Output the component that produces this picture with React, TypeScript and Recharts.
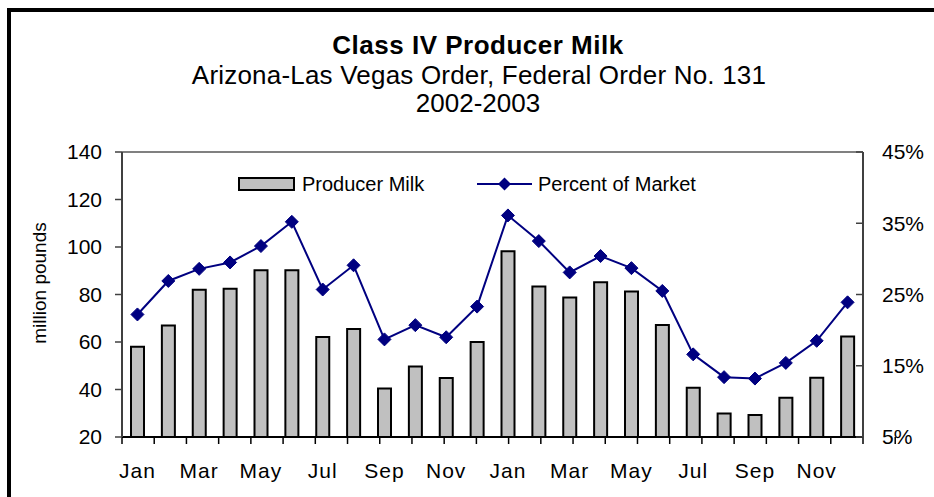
import React from 'react';
import { ComposedChart, Bar, Line, XAxis, YAxis, Legend, ReferenceLine } from 'recharts';

const months = ['Jan', 'Feb', 'Mar', 'Apr', 'May', 'Jun', 'Jul', 'Aug', 'Sep', 'Oct', 'Nov', 'Dec',
  'Jan', 'Feb', 'Mar', 'Apr', 'May', 'Jun', 'Jul', 'Aug', 'Sep', 'Oct', 'Nov', 'Dec'];
const producerMilk = [58, 67, 82, 82.4, 90.2, 90.2, 62.1, 65.5, 40.4, 49.7, 44.8, 60,
  98.2, 83.4, 78.7, 85.2, 81.3, 67.2, 40.7, 29.9, 29.3, 36.5, 45, 62.3];
const percentOfMarket = [22.2, 26.9, 28.6, 29.5, 31.8, 35.2, 25.7, 29.1, 18.7, 20.7, 19.0, 23.3,
  36.1, 32.5, 28.1, 30.4, 28.7, 25.5, 16.6, 13.4, 13.2, 15.4, 18.5, 23.9];
const leftTicks = [20, 40, 60, 80, 100, 120, 140];
const rightTicks = [5, 15, 25, 35, 45];
const boundaryTicks = Array.from({ length: months.length + 1 }, (_, i) => i);

const title = 'Class IV Producer Milk';
const subtitle = 'Arizona-Las Vegas Order, Federal Order No. 131';
const years = '2002-2003';
const yLabel = 'million pounds';

const data = months.map((m, i) => ({ month: m, milk: producerMilk[i], pct: percentOfMarket[i] }));

const FONT = "'Liberation Sans', Arial, sans-serif";
const NAVY = '#000080';

const Diamond = (props: any) => {
  const { cx, cy, index } = props;
  if (cx == null || cy == null) return <g key={`d-${index}`} />;
  const r = 6.5;
  return (
    <path key={`d-${index}`} d={`M${cx},${cy - r}L${cx + r},${cy}L${cx},${cy + r}L${cx - r},${cy}Z`} fill={NAVY} stroke={NAVY} strokeWidth={1} />
  );
};

const MonthTick = (props: any) => {
  const { x, y, payload, index } = props;
  if (index % 2 !== 0) return <g />;
  return (
    <text x={x} y={y} dy="0.71em" textAnchor="middle" fontFamily={FONT} fontSize={21} fill="#000" letterSpacing={1}>
      {payload.value}
    </text>
  );
};

const EmptyTick = () => <g />;

const LegendContent = () => (
  <svg width={480} height={28} style={{ display: 'block' }}>
    <rect x={9} y={8} width={55} height={12} fill="#C0C0C0" stroke="#000" strokeWidth={2} />
    <text x={72} y={21} fontFamily={FONT} fontSize={20} fill="#000">Producer Milk</text>
    <line x1={247} y1={14} x2={302} y2={14} stroke={NAVY} strokeWidth={2} />
    <path d="M274.5,7.5L281,14L274.5,20.5L268,14Z" fill={NAVY} />
    <text x={308} y={21} fontFamily={FONT} fontSize={20} fill="#000">Percent of Market</text>
  </svg>
);

export default function App() {
  return (
    <div style={{ position: 'fixed', left: 0, top: 0, width: 934, height: 497, background: '#fff', overflow: 'hidden' }}>
      <ComposedChart
        width={934}
        height={497}
        data={data}
        margin={{ top: 152, right: 0, bottom: 0, left: 0 }}
      >
        <XAxis
          xAxisId="b"
          dataKey="month"
          interval={0}
          height={53}
          tickSize={0}
          tickMargin={19}
          tick={MonthTick}
          axisLine={false}
          tickLine={false}
        />
        <XAxis
          xAxisId="a"
          type="number"
          domain={[0, months.length]}
          allowDataOverflow
          ticks={boundaryTicks}
          interval={0}
          height={7}
          tickSize={7}
          tick={EmptyTick}
          axisLine={{ stroke: '#000', strokeWidth: 2 }}
          tickLine={{ stroke: '#000', strokeWidth: 1.5 }}
        />
        <YAxis
          yAxisId="left"
          orientation="left"
          width={122}
          domain={[20, 140]}
          ticks={leftTicks}
          interval={0}
          tickSize={7}
          tickMargin={13}
          axisLine={{ stroke: '#404040', strokeWidth: 2 }}
          tickLine={{ stroke: '#404040', strokeWidth: 1.5 }}
          tick={{ fontFamily: FONT, fontSize: 21, fill: '#000' }}
        />
        <YAxis
          yAxisId="right"
          orientation="right"
          width={71}
          domain={[5, 45]}
          ticks={rightTicks}
          interval={0}
          tickSize={-7}
          tickMargin={26}
          tickFormatter={(v: number) => `${v}%`}
          axisLine={{ stroke: '#404040', strokeWidth: 2 }}
          tickLine={{ stroke: '#404040', strokeWidth: 1.5 }}
          tick={{ fontFamily: FONT, fontSize: 21, fill: '#000' }}
        />
        <ReferenceLine y={140} yAxisId="left" xAxisId="b" stroke="#808080" strokeWidth={2} />
        <Legend
          verticalAlign="middle"
          layout="horizontal"
          align="center"
          content={LegendContent}
          wrapperStyle={{ position: 'absolute', left: 230, top: 170, width: 480, height: 28 }}
        />
        <Bar
          xAxisId="b"
          yAxisId="left"
          dataKey="milk"
          name="Producer Milk"
          barSize={13}
          fill="#C0C0C0"
          stroke="#000"
          strokeWidth={2}
          isAnimationActive={false}
        />
        <Line
          xAxisId="b"
          yAxisId="right"
          dataKey="pct"
          name="Percent of Market"
          type="linear"
          stroke={NAVY}
          strokeWidth={2}
          dot={Diamond}
          activeDot={false}
          isAnimationActive={false}
        />
      </ComposedChart>
      <svg width={934} height={497} style={{ position: 'absolute', left: 0, top: 0, pointerEvents: 'none' }}>
        <rect x={7} y={8} width={4} height={489} fill="#000" />
        <rect x={7} y={8} width={927} height={4} fill="#000" />
        <text x={478} y={54} textAnchor="middle" fontFamily={FONT} fontSize={26} fontWeight="bold" fill="#000" letterSpacing={0.5}>{title}</text>
        <text x={479} y={84} textAnchor="middle" fontFamily={FONT} fontSize={26} fill="#000" letterSpacing={0.2}>{subtitle}</text>
        <text x={478} y={112} textAnchor="middle" fontFamily={FONT} fontSize={26} fill="#000">{years}</text>
        <text x={46} y={283} textAnchor="middle" fontFamily={FONT} fontSize={19} fill="#000" transform="rotate(-90, 46, 283)">{yLabel}</text>
      </svg>
    </div>
  );
}
